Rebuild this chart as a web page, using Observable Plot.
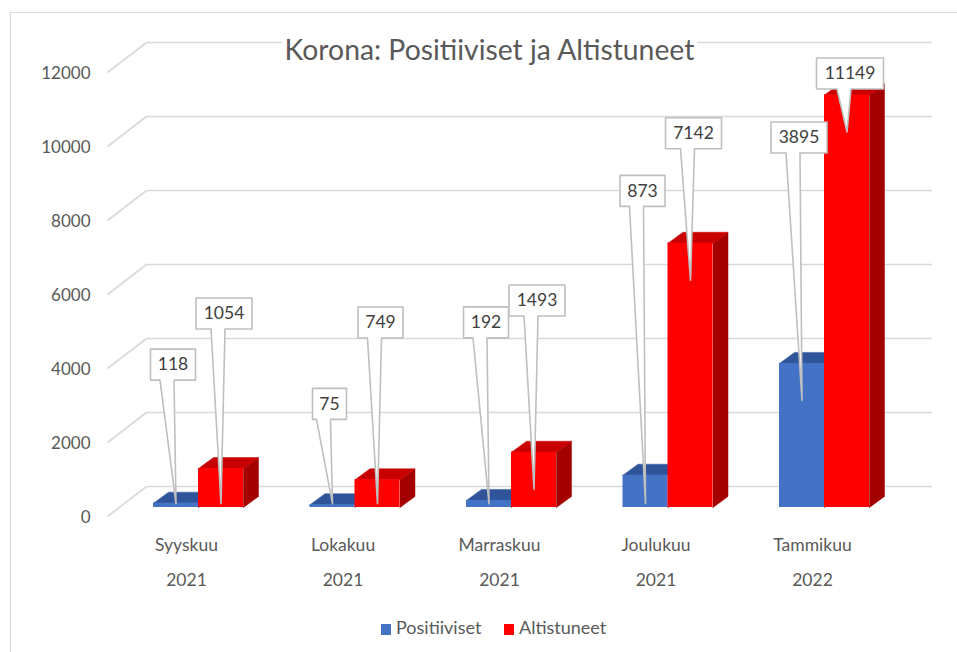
<!DOCTYPE html>
<html><head><meta charset="utf-8">
<script src="https://cdn.jsdelivr.net/npm/d3@7"></script>
<script src="https://cdn.jsdelivr.net/npm/@observablehq/plot@0.6"></script>
<style>
html,body{margin:0;padding:0;background:#fff;}
#wrap{position:relative;width:957px;height:652px;overflow:hidden;font-family:Lato,"Open Sans",sans-serif;}
#border{position:absolute;left:10px;top:12px;width:1000px;height:700px;border:1.5px solid #d9d9d9;box-sizing:border-box;}
#chart{position:absolute;left:0;top:0;}
#title{position:absolute;top:0;left:0;white-space:nowrap;color:#595959;background:#fff;padding:0 3px;line-height:1;}
.leg{position:absolute;top:617px;font-size:18px;color:#595959;white-space:nowrap;line-height:20px;}
.leg i{display:inline-block;width:10px;height:11px;margin-right:5px;vertical-align:-1px;}
</style></head><body>
<div id="wrap"><div id="border"></div><div id="chart"></div><div id="title">Korona: Positiiviset ja Altistuneet</div>
<div class="leg" style="left:381px"><i style="background:#4472C4"></i>Positiiviset</div>
<div class="leg" style="left:504px"><i style="background:#FF0000"></i>Altistuneet</div>
</div>
<script>
// ---- data ----
const months = ["Syyskuu", "Lokakuu", "Marraskuu", "Joulukuu", "Tammikuu"];
const years = ["2021", "2021", "2021", "2021", "2022"];
const positiiviset = [118, 75, 192, 873, 3895];
const altistuneet = [1054, 749, 1493, 7142, 11149];
const seriesNames = ["Positiiviset", "Altistuneet"];
const yTicks = [0, 2000, 4000, 6000, 8000, 10000, 12000];

// ---- layout (pixels) ----
const W = 957, H = 652;
const X0 = 198, XSTEP = 156.5;     // first group centre, group spacing
const Y0 = 507, YTOP = 63;         // front baseline, front level of 12000
const ux = p => p / XSTEP;                       // px -> x units
const uy = p => p * 12000 / (Y0 - YTOP);         // px -> y units
const px2x = p => (p - X0) / XSTEP;
const BAR = ux(45), DX = ux(15), DY = uy(11);

const frontCol = ["#4472C4", "#FF0000"], topCol = ["#30549A", "#C80000"], sideCol = ["#2A4A86", "#A50000"];

const bars = [];
months.forEach((m, i) => {
  [positiiviset[i], altistuneet[i]].forEach((v, s) => {
    const x1 = i + (s === 0 ? -BAR : 0);
    bars.push({i, s, v, x1, x2: x1 + BAR, xc: x1 + BAR / 2});
  });
});

function poly(list, fn) {
  return list.flatMap((b, k) => { const p = fn(b); return [...p, p[0]].map(q => ({k, x: q[0], y: q[1]})); });
}
const topPts = s => poly(bars.filter(b => b.s === s), b => [[b.x1, b.v], [b.x2, b.v], [b.x2 + DX, b.v + DY], [b.x1 + DX, b.v + DY]]);
const sidePts = s => poly(bars.filter(b => b.s === s), b => [[b.x2, 0], [b.x2 + DX, DY], [b.x2 + DX, b.v + DY], [b.x2, b.v]]);

// callout placement rule
const redLevel = v => Math.min(4400 + 0.8 * v, 11730);
const callouts = bars.map(b => {
  const level = b.s === 1 ? redLevel(b.v) : Math.min(2800 + 5400 * Math.log10(b.v / 75), 10000);
  const txt = String(b.v);
  const w = 11 * txt.length + 12;
  const bx = b.xc + ux(b.s === 0 ? -3 : 3);
  return {...b, bx, level, txt, hw: ux(w / 2), hh: uy(15.5), tip: Math.max(b.v - 1000, 100)};
});
const calloutPts = poly(callouts, c => [
  [c.bx - c.hw, c.level + c.hh], [c.bx + c.hw, c.level + c.hh], [c.bx + c.hw, c.level - c.hh],
  [c.bx + ux(1), c.level - c.hh], [c.xc, c.tip], [c.bx - ux(13), c.level - c.hh], [c.bx - c.hw, c.level - c.hh]
]);

const faceMarks = s => [
  Plot.line(sidePts(s), {x: "x", y: "y", z: "k", fill: sideCol[s], stroke: sideCol[s], strokeWidth: 0.5}),
  Plot.line(topPts(s), {x: "x", y: "y", z: "k", fill: topCol[s], stroke: topCol[s], strokeWidth: 0.5}),
  Plot.rect(bars.filter(b => b.s === s), {x1: "x1", x2: "x2", y1: 0, y2: "v", fill: frontCol[s]})
];

const chart = Plot.plot({
  width: W, height: H, margin: 0,
  x: {type: "linear", domain: [0, 4], range: [X0, X0 + 4 * XSTEP], axis: null},
  y: {type: "linear", domain: [0, 12000], range: [Y0, YTOP], axis: null},
  style: {background: "transparent", fontFamily: "Lato, 'Open Sans', sans-serif", overflow: "visible"},
  marks: [
    Plot.ruleY(yTicks, {y: d => d, x1: px2x(146), x2: px2x(932), dy: -21, stroke: "#d9d9d9", strokeWidth: 1.6}),
    Plot.link(yTicks, {x1: px2x(107), y1: d => d - uy(9), x2: px2x(146), y2: d => d + uy(21), stroke: "#d9d9d9", strokeWidth: 1.6}),
    Plot.text(yTicks, {x: px2x(90), y: d => d, dy: 10, text: d => String(d), textAnchor: "end", fill: "#595959", fontSize: 17}),
    Plot.text(months, {x: (d, i) => i, y: 0, dx: -12, dy: 38, text: d => d, fill: "#595959", fontSize: 17.5}),
    Plot.text(years, {x: (d, i) => i, y: 0, dx: -12, dy: 73, text: d => d, fill: "#595959", fontSize: 17.5}),
    ...faceMarks(0),
    ...faceMarks(1),
    Plot.line(calloutPts, {x: "x", y: "y", z: "k", fill: "#fff", stroke: "#bfbfbf", strokeWidth: 1.6}),
    Plot.text(callouts, {x: "bx", y: "level", text: "txt", fill: "#404040", fontSize: 17.5})
  ]
});
document.getElementById("chart").appendChild(chart);

// title: fit width and position
const title = document.getElementById("title");
const ctx = document.createElement("canvas").getContext("2d");
ctx.font = "24px Lato";
const fs = 24 * 411 / ctx.measureText(title.textContent).width;
title.style.fontSize = fs + "px";
const tw = title.getBoundingClientRect().width, th = title.getBoundingClientRect().height;
title.style.left = (489.5 - tw / 2) + "px";
title.style.top = (49 - th / 2) + "px";
</script>
</body></html>
